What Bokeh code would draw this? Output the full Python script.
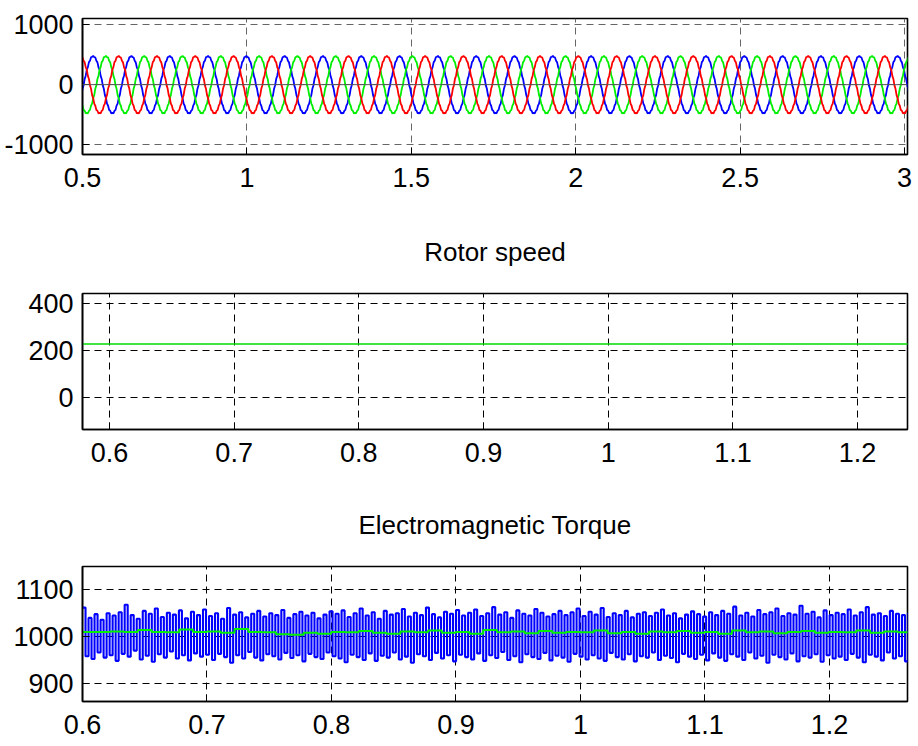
import numpy as np
from bokeh.plotting import figure
from bokeh.layouts import column
from bokeh.models import Range1d, FixedTicker, CustomJSTickFormatter, Span
from bokeh.embed import file_html
from bokeh.resources import INLINE

# ---------------------------------------------------------------------------
# Data
# ---------------------------------------------------------------------------

# Stator voltage, one steady-state period (10 degree samples, starting at the
# positive peak), including the inverter step ripple.  Units: V.
wave_cycle = [480, 458, 455, 398, 372, 290, 250, 146, 95, -12, -70, -175,
              -225, -318, -352, -424, -436, -480, -470, -482, -438, -422,
              -350, -316, -224, -176, -68, -10, 96, 150, 252, 292, 376, 400,
              458, 462]
wave_period = 0.1165          # s
phase_a_first_peak = 0.5325   # s
phase_lag = [0.0, 1.0 / 3.0, 2.0 / 3.0]   # fraction of a period (a, b, c)

# Rotor speed (rad/s)
speed_time = [0.5, 1.3]
speed_value = [228, 228]

# Electromagnetic torque (N.m): successive ripple maxima and minima
torque_start = 0.6
torque_half_step = 0.00242
torque_high = [
    1062, 1040, 1048, 1036, 1050, 1045, 1052, 1068, 1046, 1038, 1055, 1049, 1060, 1042, 1051, 1047, 1056, 1039, 1053, 1046, 1058,
    1044, 1050, 1038, 1061, 1047, 1052, 1041, 1049, 1055, 1043, 1050, 1046, 1057, 1040, 1048, 1053, 1045, 1051, 1039, 1047, 1054,
    1049, 1056, 1042, 1050, 1060, 1045, 1052, 1038, 1055, 1047, 1050, 1059, 1043, 1051, 1046, 1062, 1048, 1041, 1053, 1049, 1057,
    1045, 1051, 1058, 1044, 1050, 1063, 1047, 1052, 1040, 1056, 1049, 1045, 1059, 1051, 1043, 1048, 1055, 1046, 1052, 1060, 1044,
    1053, 1047, 1061, 1042, 1050, 1046, 1055, 1041, 1049, 1052, 1044, 1051, 1058, 1045, 1050, 1039, 1047, 1054, 1048, 1043, 1052,
    1046, 1055, 1049, 1064, 1045, 1051, 1043, 1057, 1048, 1052, 1060, 1044, 1050, 1047, 1066, 1049, 1053, 1041, 1056, 1046, 1051,
    1048, 1058, 1045, 1052, 1063, 1047, 1050, 1044, 1055, 1049, 1046, 1050,
]
torque_low = [
    958, 952, 966, 955, 960, 948, 963, 957, 970, 951, 959, 946, 962, 955, 968, 953, 960, 949, 964, 957, 961,
    950, 963, 956, 944, 960, 953, 967, 955, 949, 962, 958, 951, 965, 954, 960, 947, 963, 956, 952, 966, 958,
    953, 945, 961, 956, 950, 964, 948, 959, 955, 966, 951, 957, 944, 962, 958, 950, 965, 953, 960, 947, 961,
    956, 951, 964, 948, 960, 954, 967, 950, 958, 945, 962, 956, 952, 965, 949, 959, 955, 946, 963, 957, 951,
    960, 953, 948, 965, 956, 951, 962, 947, 958, 955, 966, 950, 959, 954, 945, 963, 957, 952, 961, 949, 964,
    955, 948, 962, 957, 950, 966, 953, 959, 944, 961, 956, 951, 964, 947, 958, 955, 962, 946, 960, 953, 957,
    950, 963, 955, 945, 961, 957, 949, 966, 953, 958, 947, 960,
]

# Mean (filtered) torque
mean_torque_step = 0.0111
mean_torque = [1010, 1010, 1011, 1010, 1014, 1010, 1009, 1015, 1010, 1011, 1008, 1016,
               1010, 1009, 1005, 1004, 1008, 1006, 1010, 1009, 1012, 1008, 1006, 1011,
               1009, 1013, 1008, 1010, 1006, 1014, 1009, 1011, 1007, 1012, 1008, 1010,
               1009, 1013, 1007, 1010, 1006, 1011, 1009, 1012, 1008, 1010, 1006, 1013,
               1009, 1011, 1007, 1010, 1012, 1008, 1010, 1009, 1013, 1008, 1011, 1009, 1010]

# Axis ticks
volt_xticks = [0.5, 1, 1.5, 2, 2.5, 3]
volt_yticks = [-1000, 0, 1000]
speed_xticks = [0.6, 0.7, 0.8, 0.9, 1, 1.1, 1.2]
speed_yticks = [0, 200, 400]
torque_xticks = [0.6, 0.7, 0.8, 0.9, 1, 1.1, 1.2]
torque_yticks = [900, 1000, 1100]

# ---------------------------------------------------------------------------
# Styling helpers
# ---------------------------------------------------------------------------
FONT = "Liberation Sans"
TICK_SIZE = "27px"
TITLE_SIZE = "26px"


def make_panel(height, xr, yr, xticks, yticks, top, left, right, bottom,
               title=None, grid_color="#000000"):
    p = figure(width=918, height=height,
               x_range=Range1d(*xr), y_range=Range1d(*yr),
               output_backend="svg", toolbar_location=None,
               min_border_top=top, min_border_left=left,
               min_border_right=right, min_border_bottom=bottom)
    if title:
        p.title.text = title
        p.title.align = "center"
        p.title.text_font = FONT
        p.title.text_font_size = TITLE_SIZE
        p.title.text_font_style = "normal"
        p.title.text_color = "#000000"
        p.title.standoff = 53
    else:
        p.title.visible = False
    p.background_fill_color = "white"
    p.border_fill_color = "white"
    p.outline_line_color = "#000000"
    p.outline_line_width = 1.6
    p.outline_line_alpha = 1.0

    p.xaxis.ticker = FixedTicker(ticks=xticks)
    p.yaxis.ticker = FixedTicker(ticks=yticks)
    fmt = "return String(tick);"
    p.xaxis.formatter = CustomJSTickFormatter(code=fmt)
    p.yaxis.formatter = CustomJSTickFormatter(code=fmt)
    for ax in (p.xaxis, p.yaxis):
        ax.major_label_text_font = FONT
        ax.major_label_text_font_size = TICK_SIZE
        ax.major_label_text_color = "#000000"
        ax.axis_line_color = "#000000"
        ax.axis_line_width = 1.6
        ax.major_tick_in = 7
        ax.major_tick_out = 0
        ax.major_tick_line_color = "#000000"
        ax.minor_tick_line_color = None
    p.xaxis.major_label_standoff = 13
    p.yaxis.major_label_standoff = 9

    p.grid.grid_line_color = grid_color
    p.grid.grid_line_dash = "7 5"
    p.grid.grid_line_width = 1
    return p


# ---------------------------------------------------------------------------
# Panel 1: three-phase stator voltages
# ---------------------------------------------------------------------------
p1 = make_panel(208, (0.5, 3.009), (-1167, 1105), volt_xticks, volt_yticks,
                top=18, left=82, right=10, bottom=54, grid_color="#666666")
p1.add_layout(Span(location=0, dimension="width", line_color="#555555",
                   line_width=1))

n_samp = len(wave_cycle)
n_cycles = 24
for lag, color in zip(phase_lag, ["#0000ff", "#00ee00", "#ff0000"]):
    t0 = phase_a_first_peak + (lag - 2) * wave_period
    t = t0 + np.arange(n_cycles * n_samp) * wave_period / n_samp
    v = np.tile(wave_cycle, n_cycles)
    p1.line(t, v, line_color=color, line_width=1.8)

# ---------------------------------------------------------------------------
# Panel 2: rotor speed
# ---------------------------------------------------------------------------
p2 = make_panel(273, (0.5784, 1.24), (-137, 444), speed_xticks, speed_yticks,
                top=84, left=79, right=11, bottom=52, title="Rotor speed")
p2.line(speed_time, speed_value, line_color="#00dd00", line_width=1.6)

# ---------------------------------------------------------------------------
# Panel 3: electromagnetic torque
# ---------------------------------------------------------------------------
p3 = make_panel(265, (0.6, 1.2627), (861, 1150), torque_xticks, torque_yticks,
                top=84, left=81, right=10, bottom=45,
                title="Electromagnetic Torque")
tq = np.empty(2 * len(torque_high))
tq[0::2] = torque_high
tq[1::2] = torque_low
tq_t = torque_start + np.arange(len(tq)) * torque_half_step
p3.step(tq_t, tq, mode="after", line_color="#0000ff", line_width=2.1)

mt_t = torque_start + np.arange(len(mean_torque)) * mean_torque_step
p3.step(mt_t, mean_torque, mode="after", line_color="#00ee00", line_width=2)

layout = column(p1, p2, p3, spacing=0)

with open("out.html", "w") as f:
    f.write(file_html(layout, INLINE))
